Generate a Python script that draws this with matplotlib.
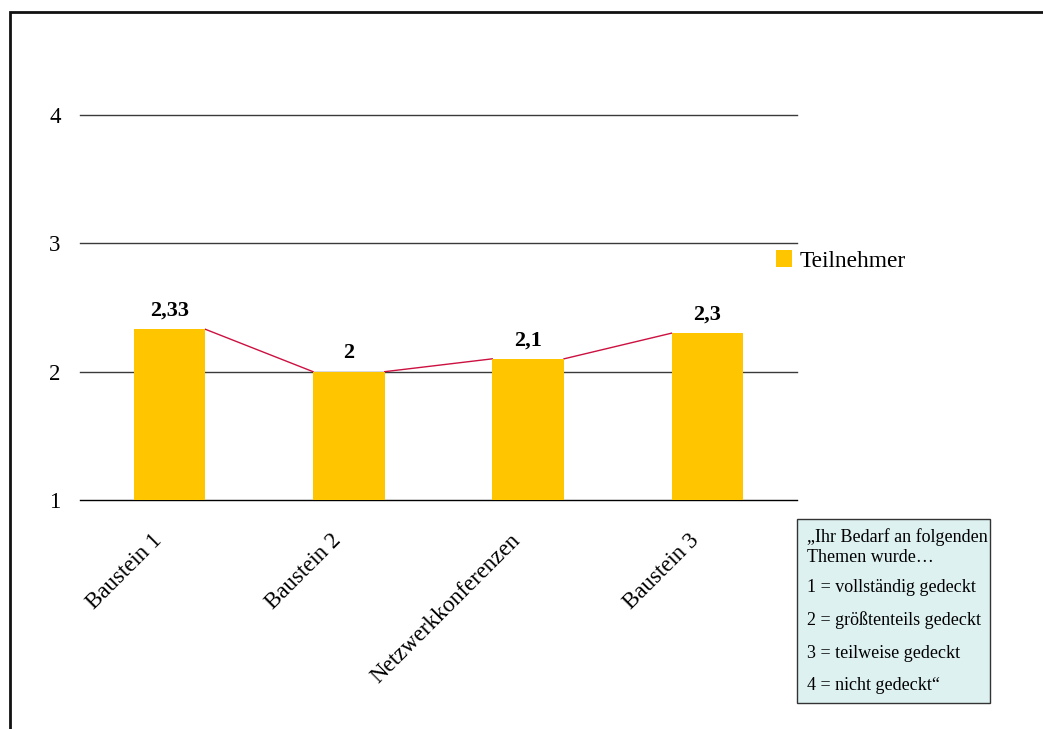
import matplotlib.pyplot as plt
from matplotlib.patches import Rectangle
from matplotlib.transforms import ScaledTranslation

# Bewertung der Bausteine (Mittelwerte)
kategorien = ["Baustein 1", "Baustein 2", "Netzwerkkonferenzen", "Baustein 3"]
werte = [2.33, 2.0, 2.1, 2.3]
werte_text = ["2,33", "2", "2,1", "2,3"]
y_ticks = [1, 2, 3, 4]
skala = ["\u201EIhr Bedarf an folgenden", "Themen wurde\u2026",
         "1 = vollst\u00e4ndig gedeckt", "2 = gr\u00f6\u00dftenteils gedeckt",
         "3 = teilweise gedeckt", "4 = nicht gedeckt\u201C"]

plt.rcParams["font.family"] = ["Liberation Serif", "DejaVu Serif"]

fig = plt.figure(figsize=(10.43, 7.29), dpi=100)
ax = fig.add_axes([80/1043, 1-500/729, 717/1043, 385/729])

breite = 0.4
x = list(range(len(kategorien)))

# Gitterlinien
for t in y_ticks:
    ax.axhline(t, color="#000000" if t == 1 else "#3a3a3a", lw=1, zorder=1,
               clip_on=False)

# rote Verbindungslinie zwischen den Balken
for i in range(len(werte) - 1):
    ax.plot([x[i] + breite/2, x[i+1] - breite/2], [werte[i], werte[i+1]],
            color="#cc1040", lw=1, zorder=2)

ax.bar(x, [w - 1 for w in werte], bottom=1, width=breite, color="#ffc600",
       zorder=3, label="Teilnehmer")

for xi, w, s in zip(x, werte, werte_text):
    ax.annotate(s, (xi, w), xytext=(0, 6), textcoords="offset points",
                ha="center", va="bottom", fontsize=16, fontweight="bold")

ax.set_xlim(-0.5, 3.5)
ax.set_ylim(1, 4)
ax.set_yticks(y_ticks)
ax.set_yticklabels([str(t) for t in y_ticks], fontsize=16.5)
ax.set_xticks(x)
ax.set_xticklabels(kategorien, fontsize=16.5, rotation=45, ha="right",
                   va="center", rotation_mode="anchor")
ax.tick_params(axis="y", length=0, pad=14)
ax.tick_params(axis="x", length=0, pad=32)
verschiebung = ScaledTranslation(-11/100, 7/100, fig.dpi_scale_trans)
for lab in ax.get_xticklabels():
    lab.set_transform(lab.get_transform() + verschiebung)
for sp in ax.spines.values():
    sp.set_visible(False)

fig.legend(loc="center left", bbox_to_anchor=(776/1043, 1-261/729),
           frameon=False, fontsize=16.8, handlelength=0.7, handleheight=0.7,
           handletextpad=0.3, borderpad=0, borderaxespad=0)

# Rahmen um die Grafik
fig.patches.append(Rectangle((10/1043, -0.1), 1.2, 1-12/729+0.1,
                             transform=fig.transFigure, fill=False,
                             edgecolor="#111111", lw=2))

# Skalen-Erläuterung
fig.patches.append(Rectangle((797/1043, 1-703/729), 193/1043, 184/729,
                             transform=fig.transFigure, facecolor="#def1f1",
                             edgecolor="#333333", lw=1))
for s, yp in zip(skala, [537, 557, 588, 620, 653, 686]):
    fig.text(807/1043, 1-yp/729, s, fontsize=13, ha="left", va="center")

fig.savefig("out.png", dpi=100)
